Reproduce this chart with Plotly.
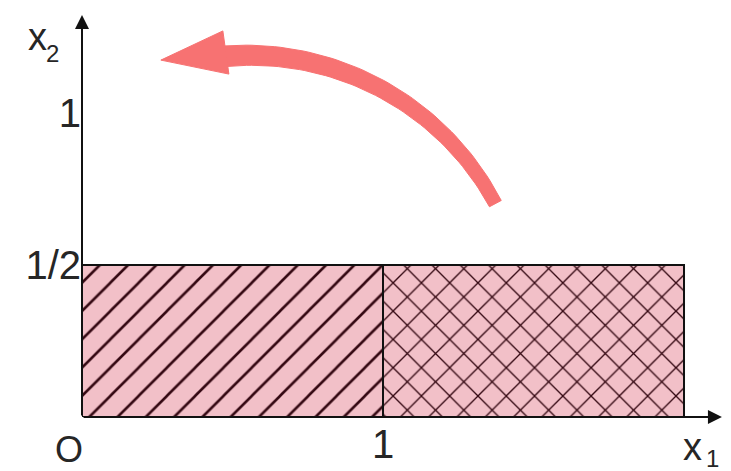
import numpy as np
import plotly.graph_objects as go

# Regions of the (x1, x2) plane: two unit-wide strips of height 1/2
region_x0 = [0, 1]
region_x1 = [1, 2]
region_top = 0.5
region_patterns = ["/", "x"]

# Axis tick positions and labels
y_tickvals = [0.5, 1]
y_ticktext = ["1/2", "1"]
x_tickvals = [1]
x_ticktext = ["1"]

# Curved arrow: circular arc (centre, radii in axis units, angles in degrees)
arc_center = (0.553, 0.270)
arc_radius = (0.929, 0.920)
arc_angles = (28.0, 95.0)
arc_halfwidth = (0.022, 0.034)       # tail -> head, in x2 units
arrow_head_x = [0.262, 0.468, 0.488, 0.262]
arrow_head_y = [1.174, 1.270, 1.128, 1.174]

PINK = "#f2c0c8"
HATCH = "#340812"
ARROW = "#f77272"
INK = "#262626"
FONT = "Liberation Sans"

fig = go.Figure()

for x0, x1, shape in zip(region_x0, region_x1, region_patterns):
    fig.add_trace(go.Scatter(
        x=[x0, x1, x1, x0, x0],
        y=[0, 0, region_top, region_top, 0],
        mode="lines",
        fill="toself",
        fillcolor=PINK,
        fillpattern=dict(shape=shape, size=20, solidity=0.13,
                         fgcolor=HATCH, bgcolor=PINK, fillmode="replace"),
        line=dict(color="#111111", width=2),
        hoverinfo="skip",
        showlegend=False,
    ))

# Tapered shaft of the curved arrow as a filled band around the arc
t = np.radians(np.linspace(arc_angles[0], arc_angles[1], 60))
hw = np.linspace(arc_halfwidth[0], arc_halfwidth[1], t.size)
rel = hw / arc_radius[1]
outer_x = arc_center[0] + arc_radius[0] * (1 + rel) * np.cos(t)
outer_y = arc_center[1] + arc_radius[1] * (1 + rel) * np.sin(t)
inner_x = arc_center[0] + arc_radius[0] * (1 - rel) * np.cos(t)
inner_y = arc_center[1] + arc_radius[1] * (1 - rel) * np.sin(t)
fig.add_trace(go.Scatter(
    x=np.concatenate([outer_x, inner_x[::-1], outer_x[:1]]),
    y=np.concatenate([outer_y, inner_y[::-1], outer_y[:1]]),
    mode="lines", fill="toself", fillcolor=ARROW,
    line=dict(color=ARROW, width=1),
    hoverinfo="skip", showlegend=False,
))
fig.add_trace(go.Scatter(
    x=arrow_head_x, y=arrow_head_y,
    mode="lines", fill="toself", fillcolor=ARROW,
    line=dict(color=ARROW, width=1),
    hoverinfo="skip", showlegend=False,
))

# Coordinate axes drawn as arrows from the origin
axis_arrows = [
    dict(x=0, y=1.322, ax=0, ay=0),
    dict(x=2.126, y=0, ax=0, ay=0),
]
annotations = []
for a in axis_arrows:
    annotations.append(dict(
        x=a["x"], y=a["y"], ax=a["ax"], ay=a["ay"],
        xref="x", yref="y", axref="x", ayref="y",
        text="", showarrow=True, arrowhead=2, arrowsize=1.4,
        arrowwidth=2, arrowcolor="#111111",
    ))

# Origin mark and axis names, placed in paper units around the plot area
annotations += [
    dict(x=-0.020, y=-0.077, text="O", size=36),
    dict(x=0.940, y=-0.072, text="x", size=38),
    dict(x=0.972, y=-0.100, text="1", size=24),
    dict(x=-0.069, y=0.911, text="x", size=38),
    dict(x=-0.045, y=0.872, text="2", size=24),
]
for a in annotations[2:]:
    a.update(xref="paper", yref="paper", showarrow=False,
             xanchor="center", yanchor="middle",
             font=dict(family=FONT, size=a.pop("size"), color=INK))

label_font = dict(family=FONT, size=40, color=INK)

fig.update_layout(
    width=731, height=471,
    margin=dict(l=82, r=0, t=0, b=54, autoexpand=False),
    paper_bgcolor="white", plot_bgcolor="white",
    annotations=annotations,
    xaxis=dict(range=[0, 2.1561], showgrid=False, zeroline=False,
               showline=False, tickmode="array", tickvals=x_tickvals,
               ticktext=x_ticktext, ticks="", tickfont=label_font,
               ticklabelstandoff=0, fixedrange=True),
    yaxis=dict(range=[0, 1.3717], showgrid=False, zeroline=False,
               showline=False, tickmode="array", tickvals=y_tickvals,
               ticktext=y_ticktext, ticks="", tickfont=label_font,
               ticklabelstandoff=0, fixedrange=True),
)

fig.write_html("out.html")
